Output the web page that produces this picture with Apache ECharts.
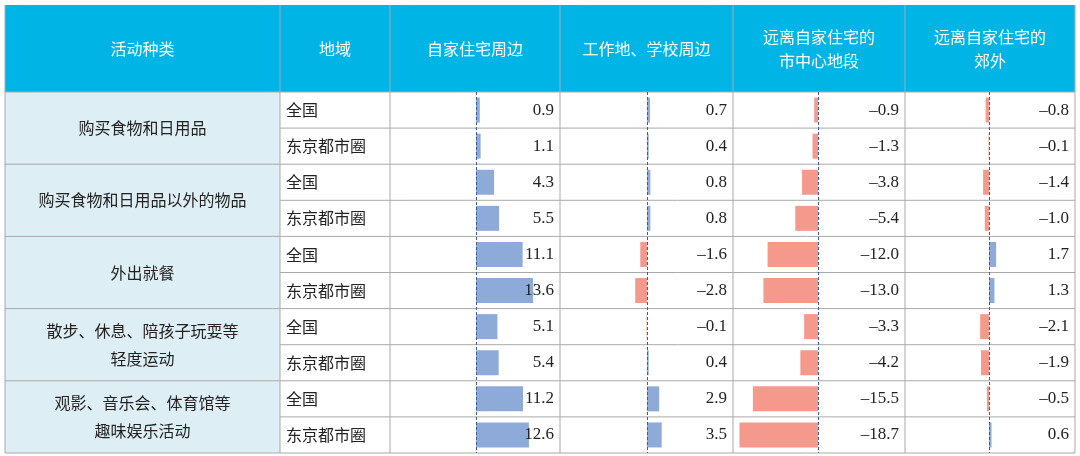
<!DOCTYPE html>
<html>
<head>
<meta charset="utf-8">
<script src="https://cdn.jsdelivr.net/npm/echarts@6/dist/echarts.min.js"></script>
<style>html,body{margin:0;padding:0;background:#fff}#main{width:1080px;height:456px}</style>
</head>
<body>
<div id="main"></div>
<script>
var headers = ['活动种类', '地域', '自家住宅周边', '工作地、学校周边', '远离自家住宅的\n市中心地段', '远离自家住宅的\n郊外'];
var groups = ['购买食物和日用品', '购买食物和日用品以外的物品', '外出就餐', '散步、休息、陪孩子玩耍等\n轻度运动', '观影、音乐会、体育馆等\n趣味娱乐活动'];
var regions = ['全国', '东京都市圈'];
var nearHome = [0.9, 1.1, 4.3, 5.5, 11.1, 13.6, 5.1, 5.4, 11.2, 12.6];
var nearWork = [0.7, 0.4, 0.8, 0.8, -1.6, -2.8, -0.1, 0.4, 2.9, 3.5];
var cityCenter = [-0.9, -1.3, -3.8, -5.4, -12.0, -13.0, -3.3, -4.2, -15.5, -18.7];
var suburbs = [-0.8, -0.1, -1.4, -1.0, 1.7, 1.3, -2.1, -1.9, -0.5, 0.6];

var cols = [5, 280, 390, 560, 733, 905, 1075];
var zeros = [476, 647, 818, 989];
var top0 = 5, headBottom = 92, bottom = 453;
var rowH = (bottom - headBottom) / 10;
var scale = 4.2;
var lineColor = '#a9a9a9';
var cjk = '"Noto Sans CJK SC", sans-serif';

var seriesData = [nearHome, nearWork, cityCenter, suburbs];
var rowCats = [];
for (var i = 0; i < 10; i++) rowCats.push('r' + i);

var graphics = [];
// header
graphics.push({ type: 'rect', shape: { x: cols[0], y: top0, width: cols[6] - cols[0], height: headBottom - top0 }, style: { fill: '#00b5e6' } });
headers.forEach(function (h, i) {
    graphics.push({ type: 'text', x: (cols[i] + cols[i + 1]) / 2, y: (top0 + headBottom) / 2, style: { text: h, fill: '#fff', font: '16px ' + cjk, align: 'center', verticalAlign: 'middle', lineHeight: 24 } });
});
// left column background + group labels
graphics.push({ type: 'rect', shape: { x: cols[0], y: headBottom, width: cols[1] - cols[0], height: bottom - headBottom }, style: { fill: '#deeef5' } });
groups.forEach(function (g, i) {
    graphics.push({ type: 'text', x: (cols[0] + cols[1]) / 2, y: headBottom + rowH * (2 * i + 1), style: { text: g, fill: '#222', font: '16px ' + cjk, align: 'center', verticalAlign: 'middle', lineHeight: 28 } });
});
// region labels and values
for (var r = 0; r < 10; r++) {
    var cy = headBottom + rowH * (r + 0.5);
    graphics.push({ type: 'text', x: cols[1] + 6, y: cy, style: { text: regions[r % 2], fill: '#222', font: '16px ' + cjk, verticalAlign: 'middle' } });
    seriesData.forEach(function (arr, j) {
        var v = arr[r];
        var s = (v < 0 ? '\u2013' : '') + Math.abs(v).toFixed(1);
        graphics.push({ type: 'text', x: cols[j + 3] - 6, y: cy, z: 10, style: { text: s, fill: '#222', font: '17px "Liberation Serif", serif', align: 'right', verticalAlign: 'middle' } });
    });
}
// horizontal lines
for (var k = 0; k <= 10; k++) {
    var y = headBottom + rowH * k;
    var x0 = (k % 2 === 0) ? cols[0] : cols[1];
    graphics.push({ type: 'line', shape: { x1: x0, y1: y, x2: cols[6], y2: y }, style: { stroke: lineColor, lineWidth: 1 } });
}
// vertical lines
cols.forEach(function (x) {
    graphics.push({ type: 'line', shape: { x1: x, y1: top0, x2: x, y2: bottom }, style: { stroke: lineColor, lineWidth: 1 } });
});

var grids = [], xAxes = [], yAxes = [], series = [];
seriesData.forEach(function (arr, j) {
    var left = cols[j + 2], right = cols[j + 3];
    grids.push({ left: left, width: right - left, top: headBottom, height: bottom - headBottom });
    xAxes.push({ gridIndex: j, type: 'value', min: -(zeros[j] - left) / scale, max: (right - zeros[j]) / scale, show: false, splitLine: { show: false } });
    yAxes.push({ gridIndex: j, type: 'category', data: rowCats, inverse: true, show: false });
    series.push({
        type: 'bar', xAxisIndex: j, yAxisIndex: j, barWidth: 25, silent: true,
        data: arr.map(function (v) { return { value: v, itemStyle: { color: v < 0 ? '#f4998c' : '#8eaad9' } }; }),
        markLine: {
            symbol: 'none', silent: true, label: { show: false },
            lineStyle: { color: '#3b5b9c', type: [3, 2], width: 1 },
            data: [{ xAxis: 0 }]
        }
    });
});

var myChart = echarts.init(document.getElementById('main'));
myChart.setOption({
    animation: false,
    grid: grids,
    xAxis: xAxes,
    yAxis: yAxes,
    series: series,
    graphic: { elements: graphics }
});
</script>
</body>
</html>
